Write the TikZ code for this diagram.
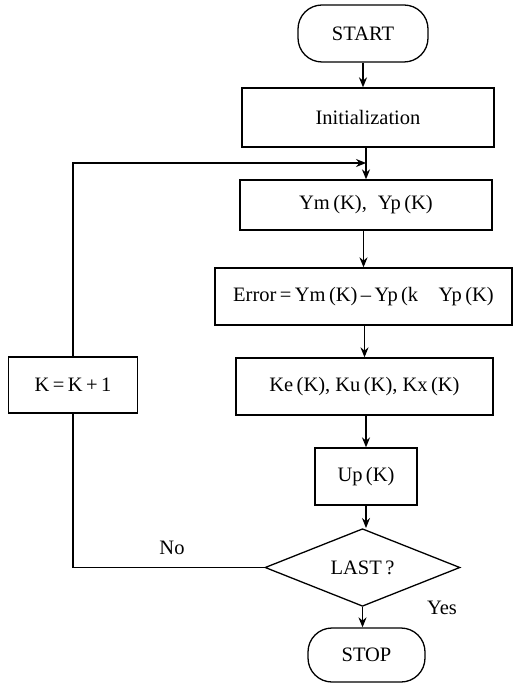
\documentclass[tikz,border=0pt]{standalone}
\usepackage{fontspec}
\setmainfont{Liberation Serif}
\usetikzlibrary{shapes.geometric,arrows.meta}
\begin{document}
\begin{tikzpicture}[x=1pt,y=-1pt,
  every node/.style={font=\fontsize{20.5}{23}\selectfont},
  box/.style={draw,line width=1.3pt,rectangle,inner sep=0pt},
  term/.style={draw,line width=1.3pt,rectangle,rounded corners=24pt,inner sep=0pt},
  dec/.style={draw,line width=1.3pt,diamond,inner sep=0pt},
  flow/.style={line width=1.3pt,-{Stealth[length=10pt,width=8pt]}},
  link/.style={line width=1.3pt}]
\useasboundingbox (0,0) rectangle (516,684);
\node[term,minimum width=130pt,minimum height=57pt] (start) at (363,33.5) {START};
\node[box,minimum width=252pt,minimum height=59pt] (init) at (368,117.5) {Initialization};
\node[box,minimum width=252pt,minimum height=50pt] (ym) at (366,205) {Ym\,(K),\; Yp\,(K)};
\node[box,minimum width=297pt,minimum height=57pt] (err) at (363.5,296.5) {Error\,=\,Ym\,(K)\,--\,Yp\,(k\quad Yp\,(K)};
\node[box,minimum width=257pt,minimum height=57pt] (ke) at (364.5,386.5) {Ke\,(K), Ku\,(K), Kx\,(K)};
\node[box,minimum width=102pt,minimum height=57pt] (up) at (366,476.5) {Up\,(K)};
\node[dec,minimum width=195pt,minimum height=65pt] (last) at (362.5,567.5) {LAST\,?};
\node[term,minimum width=117pt,minimum height=54pt] (stop) at (366.5,655) {STOP};
\node[box,minimum width=129pt,minimum height=56pt] (kk) at (73,385) {K\,=\,K\,+\,1};
\node (no) at (172,548) {No};
\node (yes) at (442,608) {Yes};
\coordinate (join) at (366,163);
\coordinate (corner) at (73,163);
\draw[flow] (start) -- (start|-init.north);
\draw[flow] (init.south-|ym) -- (ym.north);
\draw[flow] (ym.south-|err) -- (err.north);
\draw[flow] (err.south-|ke) -- (ke.north);
\draw[flow] (ke.south-|up) -- (up.north);
\draw[flow] (up) -- (up|-last.north);
\draw[flow] (last) -- (last|-stop.north);
\draw[link] (last.west) -- (last.west-|kk) -- (kk.south);
\draw[flow] (kk.north) -- (corner) -- (join);
\end{tikzpicture}
\end{document}
